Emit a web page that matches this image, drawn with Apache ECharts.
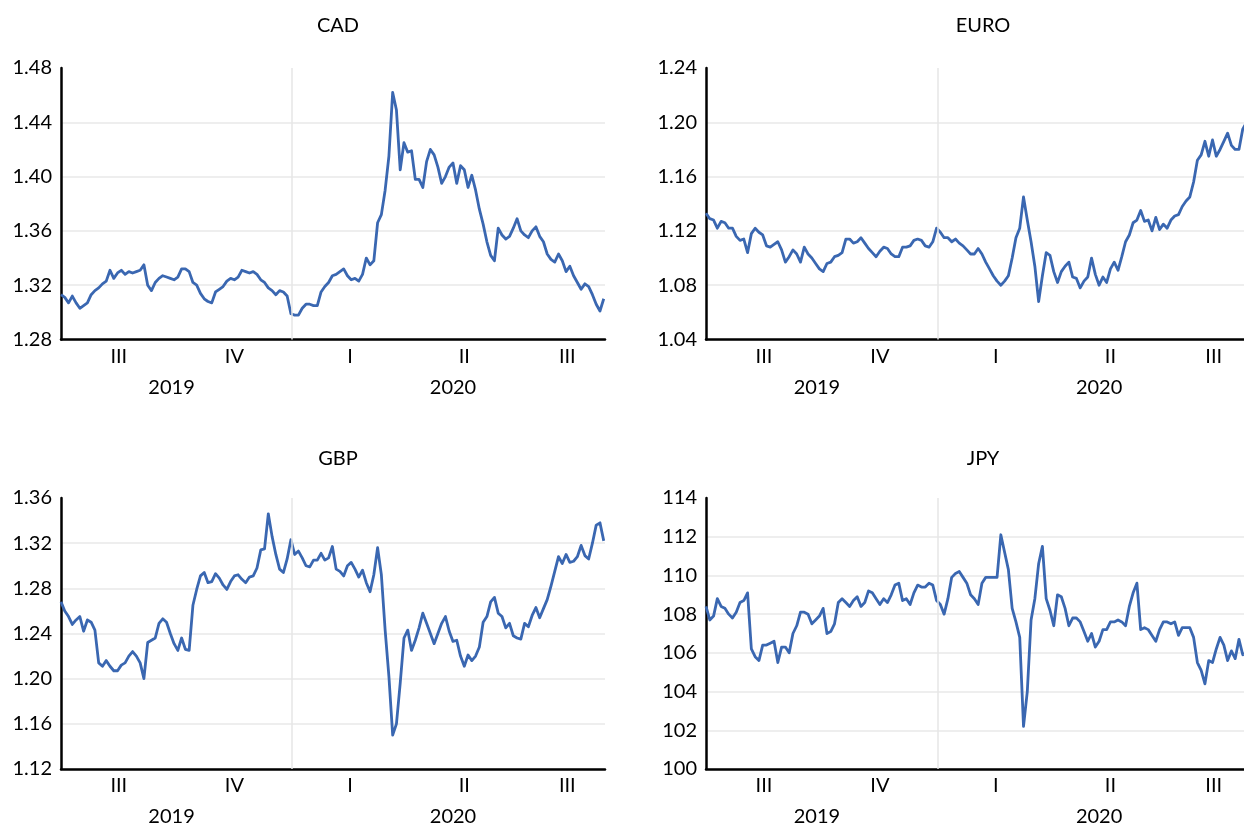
<!DOCTYPE html>
<html><head><meta charset="utf-8">
<script src="https://cdn.jsdelivr.net/npm/echarts@6/dist/echarts.min.js"></script>
<style>html,body{margin:0;padding:0;background:#fff}#c{width:1244px;height:827px}</style>
</head><body><div id="c"></div><script>
// Sampling: one reading every 3 days, starting 2019-07-01 (day 0)
const STEP_DAYS = 3;
const N_POINTS = 145;
const days = Array.from({length: N_POINTS}, (_, i) => i * STEP_DAYS);

// Quarter labels (centre of each quarter, in days since 2019-07-01)
const quarterPos = [46, 138, 230, 321, 403];
const quarterNames = ['III', 'IV', 'I', 'II', 'III'];
const yearPos = [88, 312];
const yearNames = ['2019', '2020'];
const yearBoundary = 184; // 2020-01-01

const cad = [
  1.313,1.311,1.307,1.312,1.307,1.303,1.305,1.307,1.313,1.316,1.318,1.321,
  1.323,1.331,1.325,1.329,1.331,1.328,1.330,1.329,1.330,1.331,1.335,1.320,
  1.316,1.322,1.325,1.327,1.326,1.325,1.324,1.326,1.332,1.332,1.330,1.322,
  1.320,1.314,1.310,1.308,1.307,1.315,1.317,1.319,1.323,1.325,1.324,1.326,
  1.331,1.330,1.329,1.330,1.328,1.324,1.322,1.318,1.316,1.313,1.316,1.315,
  1.312,1.299,1.298,1.298,1.303,1.306,1.306,1.305,1.305,1.315,1.319,1.322,
  1.327,
  1.328,1.330,1.332,1.327,1.324,1.325,1.323,1.328,1.340,1.335,1.338,1.366,
  1.372,1.390,1.415,1.462,1.449,1.405,1.425,1.418,1.419,1.398,1.398,1.392,
  1.411,1.420,1.416,1.407,1.395,1.400,1.407,1.410,1.395,1.408,1.405,1.392,
  1.401,1.390,1.376,1.365,1.352,1.342,1.338,1.362,1.357,1.354,1.356,1.362,
  1.369,1.360,1.357,1.355,1.360,1.363,1.356,1.352,1.343,1.339,1.337,1.343,
  1.338,1.330,1.334,1.327,1.322,1.317,1.321,1.319,1.313,1.306,1.301,1.310
];
const euro = [
  1.133,1.129,1.128,1.122,1.127,1.126,1.122,1.122,1.116,1.113,1.114,1.104,
  1.118,1.122,1.119,1.117,1.109,1.108,1.110,1.112,1.106,1.097,1.101,1.106,
  1.103,1.097,1.108,1.103,1.100,1.096,1.092,1.090,1.096,1.097,1.101,1.102,
  1.104,1.114,1.114,1.111,1.112,1.115,1.111,1.107,1.104,1.101,1.105,1.108,
  1.107,1.103,1.101,1.101,1.108,1.108,1.109,1.113,1.114,1.113,1.109,1.108,
  1.112,1.122,1.119,1.115,1.115,1.112,1.114,1.111,1.109,1.106,1.103,1.103,
  1.107,
  1.103,1.097,1.092,1.087,1.083,1.080,1.083,1.087,1.100,1.115,1.122,1.145,
  1.128,1.112,1.094,1.068,1.087,1.104,1.102,1.090,1.082,1.090,1.094,1.097,
  1.086,1.085,1.078,1.083,1.086,1.100,1.088,1.080,1.086,1.082,1.092,1.097,
  1.091,1.101,1.112,1.117,1.126,1.128,1.135,1.127,1.128,1.120,1.130,1.121,
  1.125,1.122,1.128,1.131,1.132,1.138,1.142,1.145,1.156,1.172,1.176,1.186,
  1.175,1.187,1.175,1.180,1.186,1.192,1.183,1.180,1.180,1.195,1.200,1.200
];
const gbp = [
  1.268,1.260,1.255,1.248,1.252,1.255,1.242,1.252,1.250,1.243,1.214,1.211,
  1.216,1.211,1.207,1.207,1.212,1.214,1.220,1.224,1.220,1.214,1.200,1.232,
  1.234,1.236,1.249,1.253,1.250,1.240,1.231,1.225,1.236,1.226,1.225,1.265,
  1.279,1.291,1.294,1.285,1.286,1.293,1.289,1.283,1.279,1.286,1.291,1.292,
  1.288,1.285,1.290,1.291,1.298,1.314,1.315,1.346,1.326,1.310,1.297,1.294,
  1.306,1.323,1.310,1.313,1.307,1.300,1.299,1.305,1.305,1.311,1.305,1.307,
  1.317,
  1.297,1.295,1.291,1.300,1.303,1.297,1.290,1.296,1.285,1.277,1.292,1.316,
  1.292,1.243,1.202,1.150,1.160,1.196,1.236,1.243,1.225,1.234,1.245,1.258,
  1.249,1.240,1.231,1.240,1.249,1.255,1.242,1.233,1.234,1.220,1.211,1.221,
  1.216,1.220,1.228,1.250,1.255,1.268,1.272,1.258,1.255,1.245,1.249,1.238,
  1.236,1.235,1.249,1.246,1.256,1.263,1.254,1.262,1.270,1.282,1.295,1.308,
  1.302,1.310,1.303,1.304,1.308,1.318,1.309,1.306,1.320,1.336,1.338,1.322
];
const jpy = [
  108.4,107.7,107.9,108.8,108.4,108.3,108.0,107.8,108.1,108.6,108.7,109.1,
  106.2,105.8,105.6,106.4,106.4,106.5,106.6,105.5,106.3,106.3,106.0,107.0,
  107.4,108.1,108.1,108.0,107.5,107.7,107.9,108.3,107.0,107.1,107.5,108.6,
  108.8,108.6,108.4,108.7,108.9,108.4,108.6,109.2,109.1,108.8,108.5,108.8,
  108.6,109.0,109.5,109.6,108.7,108.8,108.5,109.1,109.5,109.4,109.4,109.6,
  109.5,108.7,108.5,108.0,108.8,109.9,110.1,110.2,109.9,109.6,109.0,108.8,
  108.5,
  109.6,109.9,109.9,109.9,109.9,112.1,111.2,110.3,108.3,107.6,106.8,102.2,
  104.0,107.7,108.8,110.6,111.5,108.8,108.2,107.4,109.0,108.9,108.3,107.4,
  107.8,107.8,107.6,107.1,106.6,107.0,106.3,106.6,107.2,107.2,107.6,107.6,
  107.7,107.6,107.4,108.4,109.1,109.6,107.2,107.3,107.2,106.9,106.6,107.2,
  107.6,107.6,107.5,107.6,106.9,107.3,107.3,107.3,106.8,105.5,105.1,104.4,
  105.6,105.5,106.2,106.8,106.4,105.6,106.1,105.7,106.7,105.9,106.0,106.0
];

const panels = [
  {name: 'CAD',  vals: cad,  left: 61,  top: 68,  width: 544, xmax: 433, ymin: 1.28, ymax: 1.48, step: 0.04, dec: 2, tx: 333, ty: 11},
  {name: 'EURO', vals: euro, left: 706, top: 68,  width: 538, xmax: 427, ymin: 1.04, ymax: 1.24, step: 0.04, dec: 2, tx: 978, ty: 11},
  {name: 'GBP',  vals: gbp,  left: 61,  top: 498, width: 544, xmax: 433, ymin: 1.12, ymax: 1.36, step: 0.04, dec: 2, tx: 333, ty: 444},
  {name: 'JPY',  vals: jpy,  left: 706, top: 498, width: 538, xmax: 427, ymin: 100,  ymax: 114,  step: 2,    dec: 0, tx: 978, ty: 444}
];

const FONT = 'Lato';
const txt = {fontFamily: FONT, fontSize: 20, color: '#000'};

const option = {
  animation: false,
  backgroundColor: '#fff',
  title: [], grid: [], xAxis: [], yAxis: [], series: []
};

panels.forEach((p, i) => {
  option.title.push({
    text: p.name, left: p.tx, top: p.ty, textAlign: 'center',
    textStyle: {fontFamily: FONT, fontSize: 20, fontWeight: 'normal', color: '#000'}
  });
  option.grid.push({left: p.left, top: p.top, width: p.width, height: 271.5, containLabel: false});
  option.xAxis.push({
    type: 'value', gridIndex: i, min: 0, max: p.xmax,
    axisLine: {show: true, onZero: false, lineStyle: {color: '#000', width: 2.5}},
    axisTick: {show: false},
    splitLine: {show: false},
    axisLabel: Object.assign({
      customValues: quarterPos, margin: 7,
      formatter: v => quarterNames[quarterPos.indexOf(v)] || ''
    }, txt)
  });
  option.xAxis.push({
    type: 'value', gridIndex: i, min: 0, max: p.xmax, position: 'bottom', offset: 31,
    axisLine: {show: false}, axisTick: {show: false}, splitLine: {show: false},
    axisLabel: Object.assign({
      customValues: yearPos, margin: 7,
      formatter: v => yearNames[yearPos.indexOf(v)] || ''
    }, txt)
  });
  option.yAxis.push({
    type: 'value', gridIndex: i, min: p.ymin, max: p.ymax, interval: p.step,
    axisLine: {show: true, lineStyle: {color: '#000', width: 2.5}},
    axisTick: {show: false},
    splitLine: {show: true, showMaxLine: false, lineStyle: {color: '#e9e9e9', width: 1.5}},
    axisLabel: Object.assign({margin: 9, formatter: v => Number(v).toFixed(p.dec)}, txt)
  });
  option.series.push({
    type: 'line', xAxisIndex: 2 * i, yAxisIndex: i,
    data: days.map((d, k) => [d, p.vals[k]]),
    showSymbol: false, symbol: 'none', clip: true,
    lineStyle: {color: '#3a67b1', width: 2.8, join: 'round'},
    markLine: {
      silent: true, symbol: ['none', 'none'], label: {show: false},
      lineStyle: {color: '#e6e6e6', width: 1.5, type: 'solid'},
      data: [{xAxis: yearBoundary}]
    },
    z: 3
  });
});

const chart = echarts.init(document.getElementById('c'), null, {renderer: 'canvas'});
chart.setOption(option);
</script></body></html>
